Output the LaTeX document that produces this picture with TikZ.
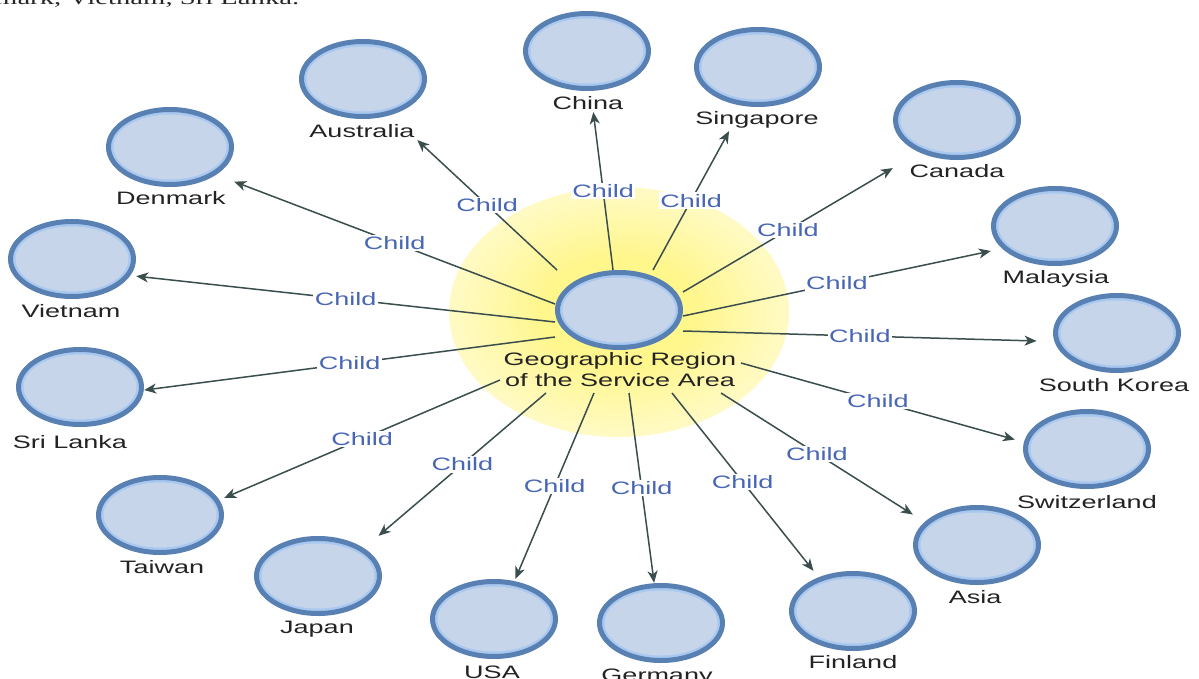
\documentclass[tikz,border=0pt]{standalone}
\usepackage{fontspec}
\setmainfont{Liberation Sans}[FakeStretch=1.5]
\newfontfamily\wideserif{Liberation Serif}[FakeStretch=1.55]
\usetikzlibrary{shapes.geometric,arrows.meta,fit}

\definecolor{ringdark}{RGB}{88,128,178}
\definecolor{ringlight}{RGB}{168,200,240}
\definecolor{discfill}{RGB}{198,213,233}
\definecolor{linkcol}{RGB}{58,78,78}
\definecolor{childblue}{RGB}{72,102,182}
\definecolor{labelgray}{RGB}{35,35,35}
\definecolor{glowcore}{RGB}{255,246,140}
\definecolor{glowinner}{RGB}{255,249,178}
\definecolor{glowmid}{RGB}{255,252,215}
\definecolor{glowrim}{RGB}{255,254,242}

\pgfdeclareradialshading{hubglow}{\pgfpoint{0bp}{0bp}}{%
  color(0bp)=(glowcore); color(11bp)=(glowcore); color(20bp)=(glowinner);
  color(30bp)=(glowmid); color(40bp)=(glowrim); color(50bp)=(white)}

% one country: disc, name below it, and a frame around both
\newcommand\countrynode[6]{%
  \node[disc] (#1-c) at (#2,#3) {};
  \node[cname] (#1-l) at (#4,#5) {#6};
  \node[inner sep=0pt, fit=(#1-c)(#1-l)] (#1) {};
}

\begin{document}
\begin{tikzpicture}[x=1pt,y=-1pt,
  disc/.style={ellipse, draw=ringdark, line width=5pt, fill=ringlight,
    minimum width=123pt, minimum height=75pt, inner sep=0pt, outer sep=2.5pt,
    path picture={\fill[discfill] (path picture bounding box.center)
      ellipse [x radius=56.5pt, y radius=32.5pt];}},
  cname/.style={font=\fontsize{18}{21}\selectfont, text=labelgray,
    inner sep=2pt, anchor=base},
  hubtext/.style={font=\fontsize{18}{21}\selectfont, text=labelgray,
    align=center, anchor=north, inner xsep=4pt, inner ysep=1pt},
  link/.style={draw=linkcol, line width=1.5pt,
    -{Stealth[length=12pt,width=10pt,inset=3.5pt]}},
  childlab/.style={font=\fontsize{18}{21}\selectfont, text=childblue,
    fill=white, inner sep=1.5pt}]

\useasboundingbox (0,0) rectangle (1199,679);
\clip (0,0) rectangle (1199,679);
\fill[white] (0,0) rectangle (1199,679);

% caption line running off the top edge
\node[font=\wideserif\fontsize{18.5}{22}\selectfont, text=black!85,
  anchor=base west, inner sep=0pt] (caption) at (-5,5) {mark, Vietnam, Sri Lanka.};

% glow behind the hub
\shade[shading=hubglow] (619,312) ellipse [x radius=170pt, y radius=125pt];

% hub
\node[disc] (hubc) at (619,310) {};
\node[hubtext] (hubl) at (620,351) {Geographic Region\\of the Service Area};
\node[inner sep=0pt, fit=(hubc)(hubl)] (hub) {};

% children
\countrynode{au}{363}{79}{362}{137.5}{Australia}
\countrynode{cn}{587}{51}{588}{109.5}{China}
\countrynode{sg}{758}{67}{757}{125}{Singapore}
\countrynode{ca}{957}{120}{957}{178}{Canada}
\countrynode{my}{1055}{226}{1056}{283}{Malaysia}
\countrynode{kr}{1117}{333}{1114}{391}{South Korea}
\countrynode{ch}{1087}{449}{1087}{508}{Switzerland}
\countrynode{as}{977}{545}{975}{603}{Asia}
\countrynode{fi}{853}{611}{853}{668}{Finland}
\countrynode{de}{661}{623}{657}{681}{Germany}
\countrynode{us}{494}{619}{492}{678}{USA}
\countrynode{jp}{318}{576}{317}{633}{Japan}
\countrynode{tw}{160}{515}{162}{573}{Taiwan}
\countrynode{lk}{80}{387}{70}{448}{Sri Lanka}
\countrynode{vn}{72}{259}{71}{317}{Vietnam}
\countrynode{dk}{170}{147}{171}{205}{Denmark}

% links: each leaves the hub's disc-and-caption outline on the line
% from the hub centre towards the child, and ends on the child's frame
\foreach \n/\sx/\sy in {au/557/270, cn/613/270, sg/653/270, ca/683/292,
    my/683/316, kr/683/331, ch/741/363, as/721/393, fi/672/393,
    de/629/393, us/594/393, jp/546/393, tw/500/380, lk/555/337,
    vn/555/322, dk/555/304} {
  \coordinate (s-\n) at (\sx,\sy);
  \draw[link] (s-\n) -- (\n) node[midway, childlab] {Child};
}
\end{tikzpicture}
\end{document}
